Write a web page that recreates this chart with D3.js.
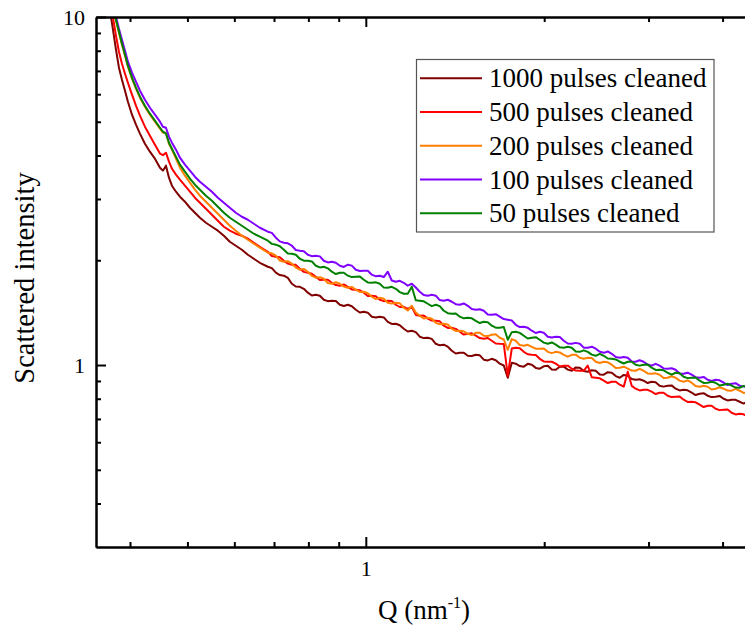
<!DOCTYPE html>
<html>
<head>
<meta charset="utf-8">
<script src="https://cdn.jsdelivr.net/npm/d3@7"></script>
<style>
body { margin: 0; background: #fff; }
svg { display: block; }
</style>
</head>
<body>
<div id="chart"></div>
<script>
// Q values (nm^-1), shared by all series
var q = [0.3643, 0.3686, 0.3715, 0.3744, 0.3788, 0.3832, 0.3877, 0.3923, 0.3968, 0.4031, 0.4094, 0.4158,
    0.4239, 0.4322, 0.4407, 0.4494, 0.4546, 0.4600, 0.4654, 0.4708, 0.4782, 0.4857, 0.4952, 0.5049,
    0.5148, 0.5249, 0.5373, 0.5499, 0.5628, 0.5761, 0.5896, 0.6035, 0.6178, 0.6323, 0.6472, 0.6625,
    0.6834, 0.6941, 0.7050, 0.7160, 0.7273, 0.7387, 0.7502, 0.7619, 0.7739, 0.7860, 0.7983, 0.8108,
    0.8235, 0.8364, 0.8495, 0.8628, 0.8763, 0.8900, 0.9041, 0.9182, 0.9325, 0.9471, 0.9619, 0.9770,
    0.9923, 1.0078, 1.0236, 1.0396, 1.0559, 1.0724, 1.0891, 1.1061, 1.1236, 1.1412, 1.1590, 1.1771,
    1.1957, 1.2144, 1.2333, 1.2526, 1.2723, 1.2922, 1.3124, 1.3329, 1.3539, 1.3751, 1.3967, 1.4186,
    1.4408, 1.4633, 1.4862, 1.5095, 1.5332, 1.5572, 1.5815, 1.6063, 1.6315, 1.6570, 1.6830, 1.7093,
    1.7361, 1.7633, 1.7909, 1.8189, 1.8475, 1.8764, 1.9058, 1.9356, 1.9660, 1.9968, 2.0281, 2.0598,
    2.0921, 2.1248, 2.1582, 2.1920, 2.2263, 2.2611, 2.2966, 2.3325, 2.3690, 2.4061, 2.4438, 2.4820,
    2.5210, 2.5604, 2.6006, 2.6413, 2.6827, 2.7247, 2.7674, 2.8107, 2.8532, 2.8978, 2.9433, 2.9894,
    3.0362, 3.0837, 3.1320, 3.1810, 3.2309, 3.2815, 3.3330, 3.3852, 3.4382, 3.4920, 3.5467, 3.6022,
    3.6587, 3.7160, 3.7741, 3.8332, 3.8933, 3.9542, 4.0162, 4.0791, 4.1430, 4.2078, 4.2737, 4.3406,
    4.4087, 4.4777, 4.5479, 4.6191, 4.6915];

// scattered intensity, one array per sample
var pulses1000 = [11.98, 10.77, 10.02, 9.194, 8.054, 7.150, 6.605, 6.141, 5.710, 5.240, 4.904, 4.621,
    4.325, 4.102, 3.917, 3.690, 3.618, 3.740, 3.454, 3.275, 3.148, 3.045, 2.946, 2.831,
    2.739, 2.650, 2.563, 2.497, 2.432, 2.353, 2.261, 2.202, 2.144, 2.074, 2.020, 1.967,
    1.916, 1.898, 1.842, 1.813, 1.806, 1.780, 1.712, 1.681, 1.678, 1.656, 1.614, 1.584,
    1.592, 1.582, 1.540, 1.526, 1.530, 1.528, 1.490, 1.478, 1.490, 1.475, 1.442, 1.416,
    1.423, 1.414, 1.377, 1.369, 1.377, 1.370, 1.331, 1.312, 1.314, 1.301, 1.271, 1.248,
    1.255, 1.243, 1.206, 1.195, 1.198, 1.189, 1.151, 1.139, 1.144, 1.129, 1.099, 1.079,
    1.084, 1.085, 1.063, 1.061, 1.070, 1.066, 1.036, 1.031, 1.042, 1.032, 1.009, 0.9969,
    0.9194, 1.015, 1.009, 0.9930, 0.9891, 1.008, 1.002, 0.9812, 0.9761, 0.9918, 0.9957, 0.9708,
    0.9694, 0.9891, 0.9891, 0.9702, 0.9630, 0.9845, 0.9825, 0.9618, 0.9566, 0.9656, 0.9630, 0.9391,
    0.9379, 0.9535, 0.9503, 0.9293, 0.9194, 0.9367, 0.9317, 0.9122, 0.9074, 0.9098, 0.9014, 0.8876,
    0.8954, 0.8926, 0.8721, 0.8669, 0.8721, 0.8740, 0.8550, 0.8454, 0.8493, 0.8460, 0.8326, 0.8199,
    0.8271, 0.8299, 0.8163, 0.8087, 0.8108, 0.8152, 0.8002, 0.7912, 0.7949, 0.7944, 0.7844, 0.7750,
    0.7844, 0.7845, 0.7691, 0.7645, 0.7691];

var pulses500 = [12.63, 11.44, 10.63, 9.953, 8.836, 7.948, 7.342, 6.873, 6.475, 5.981, 5.561, 5.205,
    4.839, 4.560, 4.297, 4.050, 4.010, 4.075, 3.840, 3.666, 3.524, 3.408, 3.275, 3.148,
    3.025, 2.926, 2.812, 2.703, 2.598, 2.497, 2.432, 2.384, 2.353, 2.307, 2.246, 2.187,
    2.116, 2.057, 2.047, 2.041, 1.994, 1.956, 1.942, 1.940, 1.891, 1.852, 1.842, 1.829,
    1.794, 1.755, 1.758, 1.758, 1.723, 1.697, 1.690, 1.704, 1.678, 1.649, 1.646, 1.640,
    1.614, 1.579, 1.582, 1.577, 1.540, 1.526, 1.530, 1.528, 1.490, 1.468, 1.470, 1.449,
    1.470, 1.393, 1.386, 1.387, 1.359, 1.342, 1.340, 1.335, 1.297, 1.278, 1.279, 1.270,
    1.246, 1.223, 1.230, 1.234, 1.214, 1.195, 1.190, 1.196, 1.174, 1.153, 1.151, 1.150,
    0.9317, 1.115, 1.121, 1.117, 1.091, 1.074, 1.070, 1.069, 1.042, 1.024, 1.022, 1.022,
    1.009, 0.9902, 0.9957, 0.9958, 0.9761, 0.9638, 0.9630, 0.9629, 0.9957, 0.9223, 0.9194, 0.9159,
    0.9014, 0.8876, 0.8954, 0.8955, 0.8779, 0.8668, 0.9566, 0.8708, 0.8550, 0.8454, 0.8493, 0.8488,
    0.8381, 0.8254, 0.8326, 0.8327, 0.8163, 0.8087, 0.8108, 0.8125, 0.7949, 0.7834, 0.7844, 0.7815,
    0.7691, 0.7574, 0.7640, 0.7641, 0.7490, 0.7420, 0.7440, 0.7455, 0.7293, 0.7212, 0.7246, 0.7218,
    0.7103, 0.6995, 0.7056, 0.7081, 0.6965];

var pulses200 = [12.72, 11.74, 11.14, 10.56, 9.758, 9.013, 8.326, 7.741, 7.197, 6.649, 6.223, 5.863,
    5.524, 5.240, 5.002, 4.776, 4.652, 4.652, 4.325, 4.157, 3.917, 3.690, 3.500, 3.341,
    3.190, 3.066, 2.946, 2.831, 2.721, 2.615, 2.513, 2.432, 2.353, 2.291, 2.231, 2.173,
    2.102, 2.094, 2.061, 1.997, 1.981, 1.988, 1.955, 1.905, 1.879, 1.889, 1.854, 1.803,
    1.782, 1.787, 1.770, 1.720, 1.712, 1.729, 1.712, 1.680, 1.667, 1.677, 1.646, 1.622,
    1.624, 1.608, 1.571, 1.547, 1.561, 1.551, 1.510, 1.501, 1.510, 1.504, 1.461, 1.434,
    1.480, 1.416, 1.386, 1.360, 1.368, 1.358, 1.322, 1.310, 1.314, 1.308, 1.271, 1.253,
    1.255, 1.250, 1.230, 1.219, 1.238, 1.238, 1.214, 1.211, 1.222, 1.225, 1.198, 1.184,
    1.106, 1.187, 1.174, 1.141, 1.136, 1.143, 1.128, 1.114, 1.114, 1.116, 1.091, 1.082,
    1.091, 1.087, 1.070, 1.057, 1.070, 1.071, 1.049, 1.043, 1.049, 1.048, 1.022, 1.014,
    1.022, 1.018, 1.002, 0.9804, 0.9825, 0.9891, 0.9761, 0.9638, 0.9630, 0.9746, 0.9630, 0.9460,
    0.9441, 0.9466, 0.9379, 0.9175, 0.9194, 0.9286, 0.9194, 0.9020, 0.8954, 0.9032, 0.8895, 0.8709,
    0.8663, 0.8715, 0.8663, 0.8504, 0.8550, 0.8636, 0.8550, 0.8443, 0.8437, 0.8538, 0.8437, 0.8315,
    0.8326, 0.8349, 0.8271, 0.8118, 0.8163];

var pulses100 = [13.14, 12.14, 11.44, 10.85, 10.02, 9.255, 8.606, 8.001, 7.440, 6.918, 6.518, 6.141,
    5.786, 5.487, 5.240, 5.002, 4.839, 4.807, 4.530, 4.354, 4.157, 3.942, 3.765, 3.618,
    3.477, 3.363, 3.254, 3.148, 3.025, 2.926, 2.831, 2.739, 2.667, 2.615, 2.547, 2.480,
    2.416, 2.397, 2.322, 2.266, 2.246, 2.237, 2.202, 2.140, 2.130, 2.123, 2.074, 2.055,
    2.061, 2.052, 1.994, 1.972, 1.981, 1.967, 1.929, 1.913, 1.942, 1.930, 1.879, 1.862,
    1.867, 1.865, 1.818, 1.798, 1.806, 1.790, 1.854, 1.749, 1.735, 1.746, 1.723, 1.690,
    1.712, 1.670, 1.624, 1.590, 1.582, 1.591, 1.582, 1.537, 1.530, 1.540, 1.520, 1.496,
    1.490, 1.503, 1.480, 1.449, 1.442, 1.446, 1.432, 1.397, 1.395, 1.400, 1.377, 1.355,
    1.349, 1.343, 1.305, 1.286, 1.288, 1.279, 1.255, 1.236, 1.246, 1.238, 1.206, 1.199,
    1.206, 1.204, 1.174, 1.153, 1.151, 1.158, 1.151, 1.122, 1.121, 1.129, 1.114, 1.092,
    1.084, 1.094, 1.077, 1.054, 1.049, 1.055, 1.049, 1.023, 1.022, 1.032, 1.022, 1.003,
    0.9957, 1.008, 0.9957, 0.9780, 0.9761, 0.9786, 0.9694, 0.9453, 0.9441, 0.9504, 0.9379, 0.9231,
    0.9194, 0.9244, 0.9074, 0.9001, 0.9074, 0.9039, 0.8895, 0.8760, 0.8837, 0.8867, 0.8721, 0.8669,
    0.8721, 0.8740, 0.8550, 0.8454, 0.8493];

var pulses50 = [12.80, 11.82, 11.21, 10.63, 9.823, 9.073, 8.381, 7.792, 7.246, 6.693, 6.264, 5.902,
    5.561, 5.275, 5.036, 4.807, 4.682, 4.621, 4.353, 4.184, 3.969, 3.765, 3.594, 3.432,
    3.297, 3.190, 3.066, 2.965, 2.850, 2.739, 2.650, 2.580, 2.513, 2.448, 2.384, 2.337,
    2.276, 2.229, 2.217, 2.194, 2.144, 2.091, 2.088, 2.075, 2.020, 1.995, 1.994, 1.985,
    1.929, 1.907, 1.916, 1.896, 1.854, 1.826, 1.842, 1.842, 1.806, 1.789, 1.794, 1.797,
    1.758, 1.727, 1.723, 1.728, 1.712, 1.669, 1.667, 1.678, 1.656, 1.620, 1.603, 1.603,
    1.678, 1.535, 1.530, 1.524, 1.500, 1.477, 1.490, 1.476, 1.432, 1.409, 1.404, 1.407,
    1.377, 1.362, 1.368, 1.362, 1.340, 1.320, 1.331, 1.327, 1.297, 1.280, 1.279, 1.286,
    1.182, 1.243, 1.246, 1.237, 1.214, 1.192, 1.198, 1.202, 1.182, 1.160, 1.151, 1.161,
    1.144, 1.124, 1.121, 1.128, 1.121, 1.093, 1.091, 1.102, 1.091, 1.071, 1.063, 1.076,
    1.063, 1.044, 1.042, 1.038, 1.022, 1.010, 1.022, 1.022, 1.002, 0.9960, 1.002, 1.004,
    0.9825, 0.9682, 0.9694, 0.9657, 0.9503, 0.9389, 0.9503, 0.9473, 0.9255, 0.9170, 0.9194, 0.9213,
    0.9014, 0.8883, 0.8895, 0.8948, 0.8895, 0.8731, 0.8779, 0.8838, 0.8721, 0.8612, 0.8606, 0.8709,
    0.8606, 0.8482, 0.8493, 0.8488, 0.8381];

var seriesNames = ["1000 pulses cleaned", "500 pulses cleaned", "200 pulses cleaned",
    "100 pulses cleaned", "50 pulses cleaned"];
var seriesValues = [pulses1000, pulses500, pulses200, pulses100, pulses50];
var seriesColors = ["#800000", "#ff0000", "#ff8000", "#8000ff", "#008000"];

var xMajor = [1],
    xMinor = [0.4, 0.5, 0.6, 0.7, 0.8, 0.9, 2, 3, 4],
    yMajor = [1, 10],
    yMinor = [0.4, 0.5, 0.6, 0.7, 0.8, 0.9, 2, 3, 4, 5, 6, 7, 8, 9];

var width = 745,
    height = 633,
    margin = {
        top: 17,
        left: 96,
        bottom: 86
    },
    plotRight = 780;

var font = "'Liberation Serif', 'Times New Roman', Times, 'DejaVu Serif', serif";

var svg = d3.select("#chart")
    .append("svg")
    .attr("width", width)
    .attr("height", height)
    .style("font-family", font);

var x = d3.scaleLog().domain([0.3505, 5]).range([margin.left, plotRight]),
    y = d3.scaleLog().domain([0.3, 10]).range([height - margin.bottom, margin.top]);

svg.append("clipPath")
    .attr("id", "plot-clip")
    .append("rect")
    .attr("x", margin.left)
    .attr("y", margin.top)
    .attr("width", plotRight - margin.left)
    .attr("height", height - margin.bottom - margin.top);

// curves, drawn in legend order
var line = d3.line()
    .x(function (d) { return x(d[0]); })
    .y(function (d) { return y(d[1]); });

svg.append("g")
    .attr("clip-path", "url(#plot-clip)")
    .selectAll("path")
    .data(seriesValues)
    .enter().append("path")
    .attr("fill", "none")
    .attr("stroke", function (d, i) { return seriesColors[i]; })
    .attr("stroke-width", 2)
    .attr("stroke-linejoin", "round")
    .attr("d", function (vals) {
        return line(q.map(function (v, i) { return [v, vals[i]]; }));
    });

// axes: major + minor ticks, all pointing inward
function styleAxis(g) {
    g.attr("font-family", null);
    g.selectAll("path, line").attr("stroke", "#000").attr("stroke-width", 2);
    g.selectAll("text").style("font-family", font).attr("font-size", 22).attr("fill", "#000");
}

var yb = height - margin.bottom;

svg.append("g")
    .attr("transform", "translate(0," + yb + ")")
    .call(d3.axisBottom(x).tickValues(xMajor).tickSize(-10).tickSizeOuter(0).tickPadding(13)
        .tickFormat(d3.format("d")))
    .call(styleAxis);
svg.append("g")
    .attr("transform", "translate(0," + yb + ")")
    .call(d3.axisBottom(x).tickValues(xMinor).tickSize(-5).tickSizeOuter(0).tickFormat(""))
    .call(styleAxis);

svg.append("g")
    .attr("transform", "translate(0," + margin.top + ")")
    .call(d3.axisTop(x).tickValues(xMajor).tickSize(-10).tickSizeOuter(0).tickFormat(""))
    .call(styleAxis);
svg.append("g")
    .attr("transform", "translate(0," + margin.top + ")")
    .call(d3.axisTop(x).tickValues(xMinor).tickSize(-5).tickSizeOuter(0).tickFormat(""))
    .call(styleAxis);

svg.append("g")
    .attr("transform", "translate(" + margin.left + ",0)")
    .call(d3.axisLeft(y).tickValues(yMajor).tickSize(-10).tickSizeOuter(0).tickPadding(11)
        .tickFormat(d3.format("d")))
    .call(styleAxis);
svg.append("g")
    .attr("transform", "translate(" + margin.left + ",0)")
    .call(d3.axisLeft(y).tickValues(yMinor).tickSize(-5).tickSizeOuter(0).tickFormat(""))
    .call(styleAxis);

svg.append("g")
    .attr("transform", "translate(" + plotRight + ",0)")
    .call(d3.axisRight(y).tickValues(yMajor).tickSize(-10).tickSizeOuter(0).tickFormat(""))
    .call(styleAxis);

// axis titles
var xTitle = svg.append("text")
    .attr("x", 424)
    .attr("y", 619)
    .attr("text-anchor", "middle")
    .attr("font-size", 27)
    .text("Q (nm");
xTitle.append("tspan")
    .attr("font-size", 16)
    .attr("dy", -11)
    .text("-1");
xTitle.append("tspan")
    .attr("dy", 11)
    .text(")");

svg.append("text")
    .attr("transform", "translate(34,278) rotate(-90)")
    .attr("text-anchor", "middle")
    .attr("font-size", 28.5)
    .text("Scattered intensity");

// legend
var legend = svg.append("g");

legend.append("rect")
    .attr("x", 416.5)
    .attr("y", 59.5)
    .attr("width", 297.5)
    .attr("height", 172.5)
    .attr("fill", "#fff")
    .attr("stroke", "#555")
    .attr("stroke-width", 1.2);

var rows = legend.selectAll("g.row")
    .data(seriesNames)
    .enter().append("g")
    .attr("class", "row")
    .attr("transform", function (d, i) { return "translate(0," + (78.3 + i * 33.75) + ")"; });

rows.append("line")
    .attr("x1", 420)
    .attr("x2", 482)
    .attr("stroke", function (d, i) { return seriesColors[i]; })
    .attr("stroke-width", 2);

rows.append("text")
    .attr("x", 489)
    .attr("y", 9)
    .attr("font-size", 27)
    .text(function (d) { return d; });
</script>
</body>
</html>
